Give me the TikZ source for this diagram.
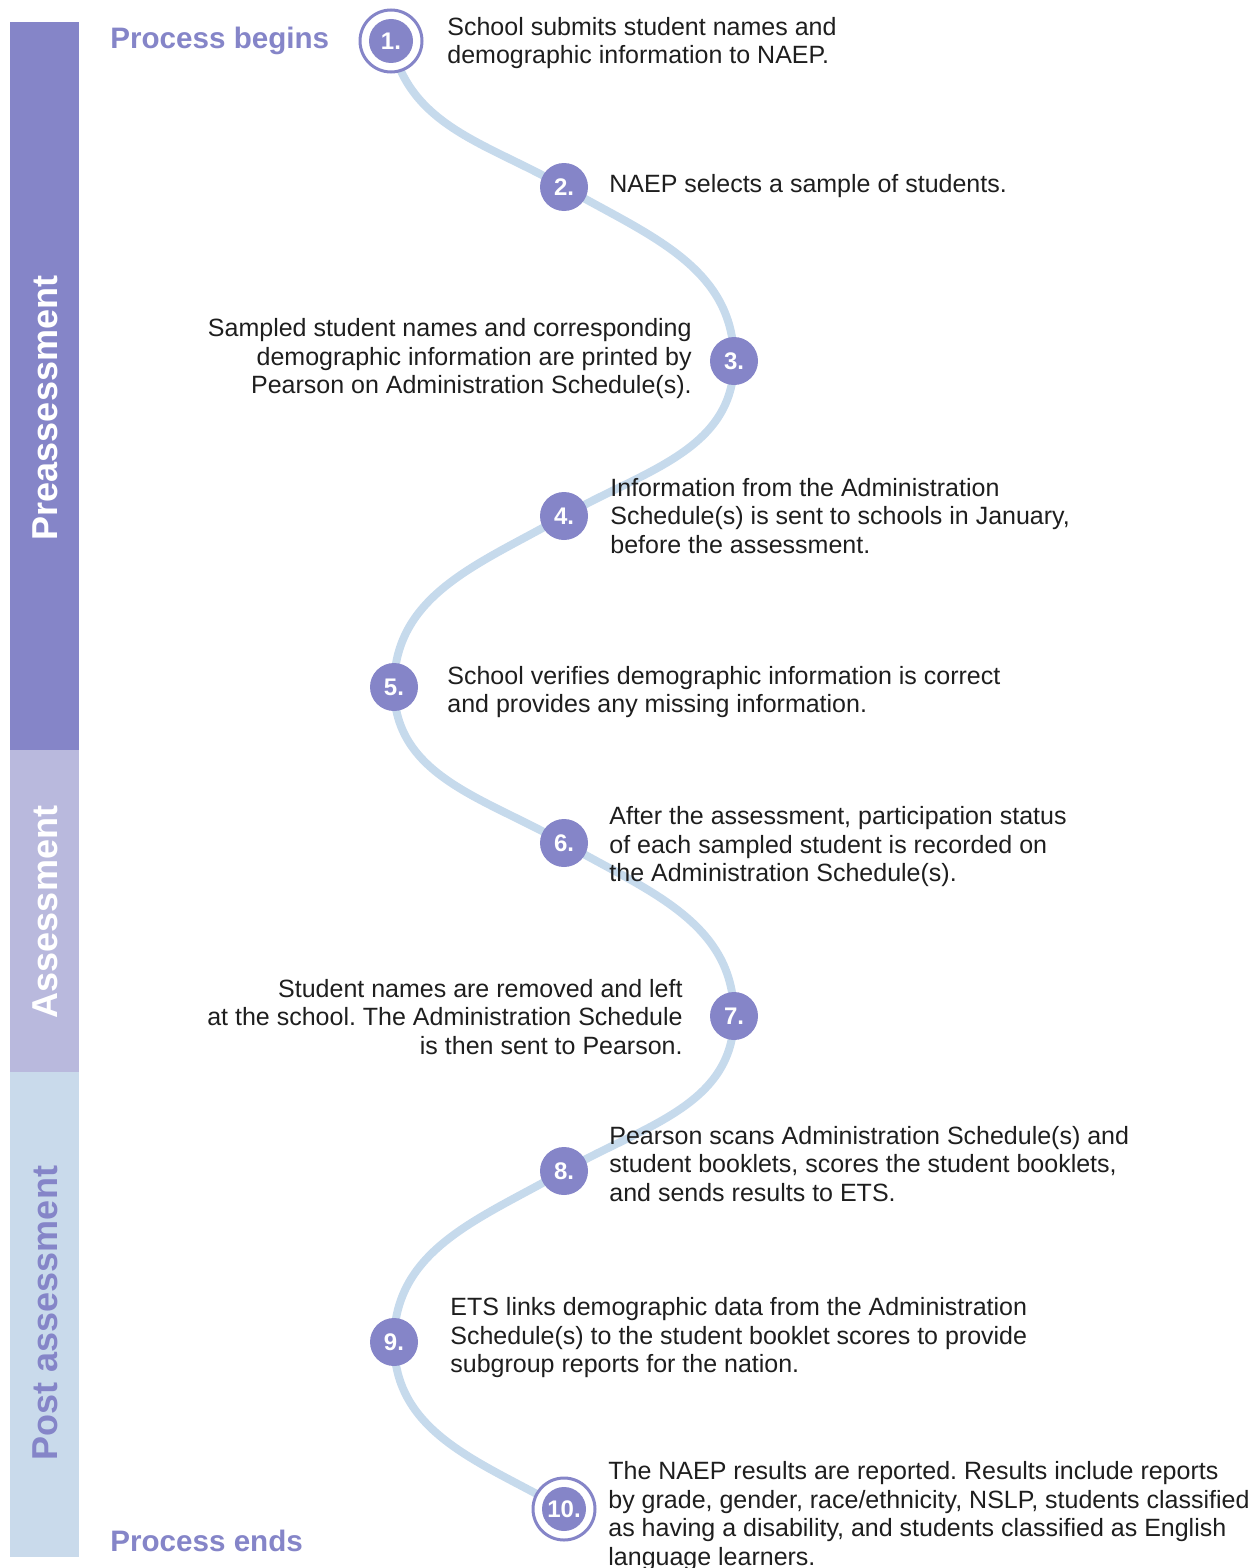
\documentclass[tikz,border=0pt]{standalone}
\usepackage{fontspec}
\setmainfont{Liberation Sans}
\usetikzlibrary{backgrounds}
\definecolor{purp}{HTML}{8585C8}
\definecolor{lav}{HTML}{B9B9DD}
\definecolor{pale}{HTML}{C9DAEB}
\definecolor{curve}{HTML}{C6DAEC}
\definecolor{ink}{HTML}{1E1E1E}
\frenchspacing
\tikzset{
  stepnode/.style={circle, fill=purp, minimum size=24pt, inner sep=0pt,
    text=white, font=\fontsize{12}{12}\selectfont\bfseries},
  ringnode/.style={circle, draw=purp, line width=1.5pt, fill=white,
    minimum size=31pt, inner sep=0pt, text=white,
    font=\fontsize{12}{12}\selectfont\bfseries,
    path picture={\fill[purp] (path picture bounding box.center) circle (11pt);}},
  txt/.style={inner sep=0pt, text=ink, font=\fontsize{12.5}{14.25}\selectfont},
  phase/.style={inner sep=0pt, rotate=90, font=\fontsize{18}{18}\selectfont\bfseries},
  endlabel/.style={inner sep=0pt, anchor=west, text=purp, font=\fontsize{14.8}{14.8}\selectfont\bfseries},
  wave/.style={draw=curve, line width=4pt}
}
\begin{document}
\begin{tikzpicture}[x=0.5pt, y=-0.5pt]
\useasboundingbox (0,0) rectangle (1252,1568);
% sidebar
\fill[purp] (10,22) rectangle (79,750);
\fill[lav] (10,750) rectangle (79,1072);
\fill[pale] (10,1072) rectangle (79,1557);
\node[phase, text=white] (pre) at (45,408) {Preassessment};
\node[phase, text=white] (ass) at (45,912) {Assessment};
\node[phase, text=purp] (post) at (45,1313) {Post assessment};
\node[endlabel] (begin) at (110,41) {Process begins};
\node[endlabel] (end) at (110,1541) {Process ends};
% steps
\node[ringnode] (n1) at (391,41) {1.};
\node[stepnode] (n2) at (564,187) {2.};
\node[stepnode] (n3) at (734,361) {3.};
\node[stepnode] (n4) at (564,516) {4.};
\node[stepnode] (n5) at (394,687) {5.};
\node[stepnode] (n6) at (564,843) {6.};
\node[stepnode] (n7) at (734,1016) {7.};
\node[stepnode] (n8) at (564,1171) {8.};
\node[stepnode] (n9) at (394,1342) {9.};
\node[ringnode] (n10) at (564,1509) {10.};
\begin{pgfonlayer}{background}
\draw[wave] (n1.center) to[out=-78,in=150] (n2.center)
  to[out=-30,in=90] (n3.center)
  to[out=-90,in=30] (n4.center)
  to[out=-150,in=90] (n5.center)
  to[out=-90,in=150] (n6.center)
  to[out=-30,in=90] (n7.center)
  to[out=-90,in=30] (n8.center)
  to[out=-150,in=90] (n9.center)
  to[out=-90,in=150] (n10.center);
\end{pgfonlayer}
% texts
\node[txt, anchor=west, align=left] (t1) at (447,43) {School submits student names and\\demographic information to NAEP.};
\node[txt, anchor=west, align=left] (t2) at (609,186) {NAEP selects a sample of students.};
\node[txt, anchor=east, align=right] (t3) at (692,359) {Sampled student names and corresponding\\demographic information are printed by\\Pearson on Administration Schedule(s).};
\node[txt, anchor=west, align=left] (t4) at (610,516) {Information from the Administration\\Schedule(s) is sent to schools in January,\\before the assessment.};
\node[txt, anchor=west, align=left] (t5) at (447,692) {School verifies demographic information is correct\\and provides any missing information.};
\node[txt, anchor=west, align=left] (t6) at (609,847) {After the assessment, participation status\\of each sampled student is recorded on\\the Administration Schedule(s).};
\node[txt, anchor=east, align=right] (t7) at (683,1017) {Student names are removed and left\\at the school. The Administration Schedule\\is then sent to Pearson.};
\node[txt, anchor=west, align=left] (t8) at (609,1164) {Pearson scans Administration Schedule(s) and\\student booklets, scores the student booklets,\\and sends results to ETS.};
\node[txt, anchor=west, align=left] (t9) at (450,1338) {ETS links demographic data from the Administration\\Schedule(s) to the student booklet scores to provide\\subgroup reports for the nation.};
\node[txt, anchor=west, align=left] (t10) at (608,1516) {The NAEP results are reported. Results include reports\\by grade, gender, race/ethnicity, NSLP, students classified\\as having a disability, and students classified as English\\language learners.};
\end{tikzpicture}
\end{document}
